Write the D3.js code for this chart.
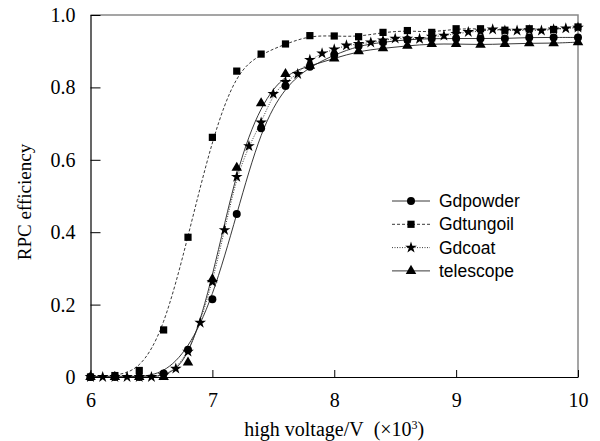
<!DOCTYPE html>
<html><head><meta charset="utf-8">
<script src="https://cdn.jsdelivr.net/npm/d3@7"></script>
<style>body{margin:0;background:#fff}svg{display:block}</style>
</head><body>
<svg id="c" width="600" height="441"></svg>
<script>
const xs02 = [6.0,6.2,6.4,6.6,6.8,7.0,7.2,7.4,7.6,7.8,8.0,8.2,8.4,8.6,8.8,9.0,9.2,9.4,9.6,9.8,10.0];
const xs01 = [6.0,6.1,6.2,6.3,6.4,6.5,6.6,6.7,6.8,6.9,7.0,7.1,7.2,7.3,7.4,7.5,7.6,7.7,7.8,7.9,8.0,8.1,8.2,8.3,8.4,8.5,8.6,8.7,8.8,8.9,9.0,9.1,9.2,9.3,9.4,9.5,9.6,9.7,9.8,9.9,10.0];
const gdpowder = [0,0,0,0.01,0.075,0.215,0.45,0.687,0.804,0.857,0.89,0.915,0.925,0.932,0.935,0.935,0.935,0.935,0.938,0.938,0.938];
const gdtungoil = [0,0.004,0.018,0.13,0.386,0.662,0.845,0.892,0.92,0.943,0.942,0.94,0.952,0.957,0.952,0.962,0.962,0.958,0.962,0.96,0.967];
const gdcoat = [0,0,0,0,0,0,0.005,0.023,0.07,0.15,0.263,0.406,0.553,0.638,0.703,0.782,0.815,0.837,0.876,0.894,0.905,0.916,0.92,0.924,0.93,0.935,0.935,0.934,0.94,0.943,0.948,0.953,0.955,0.96,0.957,0.957,0.958,0.957,0.96,0.963,0.965];
const telescope = [0,0,0,0,0.04,0.27,0.578,0.756,0.837,0.86,0.88,0.9,0.908,0.915,0.92,0.92,0.918,0.92,0.922,0.922,0.925];
const seriesNames = ["Gdpowder","Gdtungoil","Gdcoat","telescope"];
const xTicks = [6,7,8,9,10];
const xTickLabels = ["6","7","8","9","10"];
const yTicks = [0,0.2,0.4,0.6,0.8,1.0];
const yTickLabels = ["0","0.2","0.4","0.6","0.8","1.0"];

const series = [
  {name:seriesNames[0], xs:xs02, ys:gdpowder, sym:d3.symbolCircle, size:50, dash:null},
  {name:seriesNames[1], xs:xs02, ys:gdtungoil, sym:d3.symbolSquare, size:52, dash:"3,2"},
  {name:seriesNames[2], xs:xs01, ys:gdcoat, sym:d3.symbolStar, size:42, dash:"1,1.5"},
  {name:seriesNames[3], xs:xs02, ys:telescope, sym:d3.symbolTriangle, size:48, dash:null}
];

const svg = d3.select("#c");
const L=90.5, R=578, T=15, B=377;
const x = d3.scaleLinear().domain([6,10]).range([L,R]);
const y = d3.scaleLinear().domain([0,1]).range([B,T]);
const font = "'Liberation Serif','Times New Roman',serif";
const sans = "'Liberation Sans',Arial,sans-serif";

svg.append("path").attr("d",`M${L},${T}H${R}V${B}`).attr("fill","none").attr("stroke","#888").attr("stroke-width",1.5);

const lineGen = d3.line().curve(d3.curveBasis);
series.forEach(s=>{
  const pts = s.xs.map((v,i)=>[x(v),y(s.ys[i])]);
  svg.append("path").attr("d",lineGen(pts)).attr("fill","none").attr("stroke","#222")
    .attr("stroke-width",0.9).attr("stroke-dasharray",s.dash);
});
series.forEach(s=>{
  const g = svg.append("g");
  s.xs.forEach((v,i)=>{
    g.append("path").attr("d",d3.symbol().type(s.sym).size(s.size)())
      .attr("transform",`translate(${x(v)},${y(s.ys[i])})`).attr("fill","#000");
  });
});

const ax = svg.append("g").attr("transform",`translate(0,${B})`)
  .call(d3.axisBottom(x).tickValues(xTicks).tickFormat((d,i)=>xTickLabels[i]).tickSizeInner(-7).tickSizeOuter(0).tickPadding(16));
const ay = svg.append("g").attr("transform",`translate(${L},0)`)
  .call(d3.axisLeft(y).tickValues(yTicks).tickFormat((d,i)=>yTickLabels[i]).tickSizeInner(-10).tickSizeOuter(0).tickPadding(15));
[ax,ay].forEach(a=>{
  a.selectAll("path.domain").attr("stroke","#000").attr("stroke-width",1.2);
  a.selectAll(".tick line").attr("stroke","#000");
  a.selectAll("text").attr("font-family",font).attr("font-size",20).attr("fill","#000");
});

svg.append("text").attr("x",(L+R)/2).attr("y",436).attr("text-anchor","middle")
  .attr("font-family",font).attr("font-size",20)
  .html('high voltage/V&#160;&#160;(×10<tspan dy="-7" font-size="12">3</tspan><tspan dy="7">)</tspan>');
svg.append("text").attr("transform",`translate(31,202) rotate(-90)`).attr("text-anchor","middle")
  .attr("font-family",font).attr("font-size",19).text("RPC efficiency");

const lg = svg.append("g");
series.forEach((s,i)=>{
  const yy = 201 + i*23.3;
  lg.append("line").attr("x1",392).attr("x2",430).attr("y1",yy).attr("y2",yy)
    .attr("stroke","#222").attr("stroke-width",0.9).attr("stroke-dasharray",s.dash);
  lg.append("path").attr("d",d3.symbol().type(s.sym).size(s.size)()).attr("transform",`translate(411,${yy})`);
  lg.append("text").attr("x",439).attr("y",yy+6).attr("font-family",sans).attr("font-size",17.5).text(s.name);
});
</script>
</body></html>
